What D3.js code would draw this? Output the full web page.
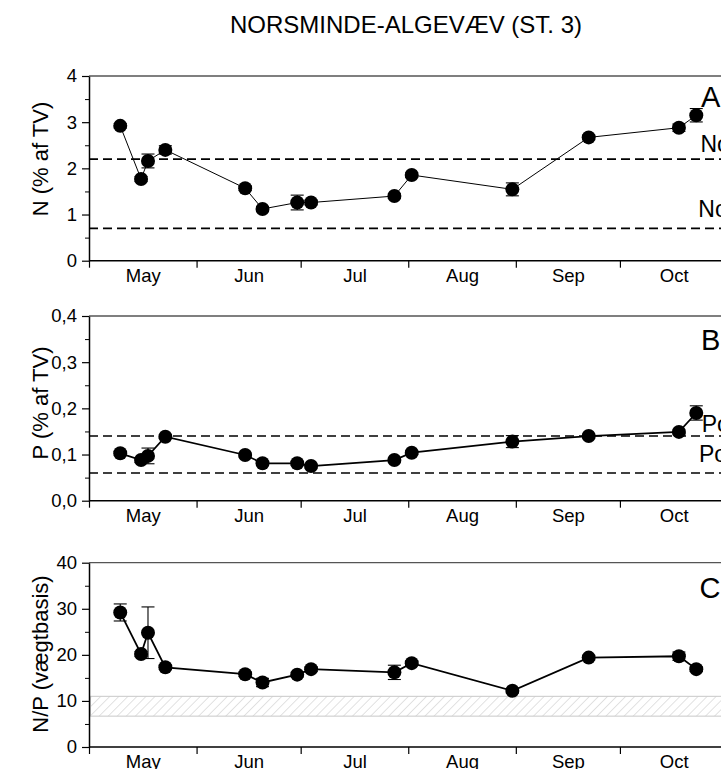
<!DOCTYPE html>
<html>
<head>
<meta charset="utf-8">
<script src="https://cdn.jsdelivr.net/npm/d3@7"></script>
<style>
  html, body { margin: 0; padding: 0; background: #fff; overflow: hidden; }
  svg { display: block; font-family: "Liberation Sans", Arial, sans-serif; }
</style>
</head>
<body>
<svg id="chart" width="721" height="769"></svg>
<script>
// Sampling dates (month-day) for station 3
const sampleDates = ["05-10", "05-16", "05-18", "05-23", "06-15", "06-20", "06-30",
                     "07-04", "07-28", "08-02", "08-31", "09-22", "10-18", "10-23"];

// Tissue nitrogen, % of dry weight, with standard deviations
const nValues = [2.92, 1.77, 2.16, 2.40, 1.57, 1.12, 1.26, 1.26, 1.40, 1.855, 1.545, 2.67, 2.88, 3.15];
const nErrors = [0.05, 0.05, 0.15, 0.09, 0.05, 0.05, 0.16, 0.05, 0.05, 0.05, 0.14, 0.05, 0.08, 0.145];

// Tissue phosphorus, % of dry weight, with standard deviations
const pValues = [0.1026, 0.088, 0.097, 0.1385, 0.099, 0.081, 0.081, 0.075, 0.088, 0.104, 0.128, 0.140, 0.149, 0.190];
const pErrors = [0.004, 0.005, 0.017, 0.004, 0.004, 0.004, 0.004, 0.004, 0.004, 0.004, 0.013, 0.004, 0.004, 0.0155];

// N/P ratio by weight, with standard deviations
const npValues = [29.2, 20.2, 24.8, 17.3, 15.8, 14.0, 15.7, 16.9, 16.2, 18.2, 12.2, 19.4, 19.7, 16.9];
const npErrors = [1.85, 0.5, 5.6, 0.5, 0.5, 0.9, 0.5, 0.5, 1.55, 0.5, 0.5, 0.5, 0.9, 0.5];

// Reference levels
const nLevels = [2.2, 0.7];
const nLevelLabels = ["No", "No"];
const pLevels = [0.14, 0.06];
const pLevelLabels = ["Po", "Po"];
const npBand = [6.7, 11];

// Axis ticks
const nTicks = [0, 1, 2, 3, 4];
const pTicks = [0, 0.1, 0.2, 0.3, 0.4];
const npTicks = [0, 10, 20, 30, 40];
const monthLabels = ["May", "Jun", "Jul", "Aug", "Sep", "Oct"];

const title = "NORSMINDE-ALGEVÆV (ST. 3)";

const YEAR = 2003;
const parseDay = d => new Date(YEAR, +d.slice(0, 2) - 1, +d.slice(3, 5));
const dates = sampleDates.map(parseDay);

const svg = d3.select("#chart");
svg.append("rect").attr("width", 721).attr("height", 769).attr("fill", "#fff");

const x = d3.scaleTime()
  .domain([new Date(YEAR, 4, 1), new Date(YEAR, 10, 1)])
  .range([89, 727.5]);

const monthStarts = d3.range(4, 11).map(m => new Date(YEAR, m, 1));
const monthMids = monthStarts.slice(0, 6).map((d, i) =>
  new Date((d.getTime() + monthStarts[i + 1].getTime()) / 2));

// hatch pattern for the N/P band
const defs = svg.append("defs");
const pat = defs.append("pattern")
  .attr("id", "hatch")
  .attr("patternUnits", "userSpaceOnUse")
  .attr("width", 6.4).attr("height", 6.4)
  .attr("patternTransform", "rotate(45)");
pat.append("line")
  .attr("x1", 0).attr("y1", 0).attr("x2", 0).attr("y2", 6.4)
  .attr("stroke", "#c4c4c4").attr("stroke-width", 1);

svg.append("text")
  .attr("x", 406).attr("y", 33)
  .attr("text-anchor", "middle")
  .attr("font-size", 24)
  .attr("fill", "#000")
  .text(title);

function panel(cfg) {
  const y = d3.scaleLinear().domain(cfg.domain).range([cfg.bottom, cfg.top]);
  const g = svg.append("g");

  // top frame line
  g.append("line")
    .attr("x1", x.range()[0]).attr("x2", 760)
    .attr("y1", cfg.top).attr("y2", cfg.top)
    .attr("stroke", "#555").attr("stroke-width", 1.3);

  if (cfg.band) {
    g.append("rect")
      .attr("x", x.range()[0] + 1.5)
      .attr("y", y(cfg.band[1]))
      .attr("width", 760 - x.range()[0])
      .attr("height", y(cfg.band[0]) - y(cfg.band[1]))
      .attr("fill", "url(#hatch)")
      .attr("stroke", "#c8c8c8").attr("stroke-width", 1);
  }

  if (cfg.levels) {
    cfg.levels.forEach((lv, i) => {
      g.append("line")
        .attr("x1", x.range()[0]).attr("x2", 760)
        .attr("y1", y(lv)).attr("y2", y(lv))
        .attr("stroke", "#000").attr("stroke-width", 1.6)
        .attr("stroke-dasharray", "9,5");
      g.append("text")
        .attr("x", cfg.labelX[i]).attr("y", y(lv) - cfg.labelGap[i])
        .attr("font-size", 23)
        .attr("fill", "#000")
        .text(cfg.levelLabels[i]);
    });
  }

  // y axis: major and minor ticks
  const minor = d3.range(cfg.domain[0], cfg.domain[1] + 1e-9, cfg.step / 2)
    .filter((v, i) => i % 2 === 1);
  g.append("g")
    .attr("transform", `translate(${x.range()[0]},0)`)
    .call(d3.axisLeft(y).tickValues(minor).tickSize(4).tickFormat(""))
    .call(a => a.select(".domain").remove())
    .call(a => a.selectAll("line").attr("stroke", "#000"));
  const ya = g.append("g")
    .attr("transform", `translate(${x.range()[0]},0)`)
    .call(d3.axisLeft(y).tickValues(cfg.ticks).tickSize(7).tickPadding(5)
      .tickSizeOuter(0).tickFormat(cfg.fmt));
  ya.select(".domain").attr("stroke", "#000").attr("stroke-width", 1.5);
  ya.selectAll("line").attr("stroke", "#000").attr("stroke-width", 1.2);
  ya.selectAll("text").attr("font-size", 18.5).attr("fill", "#000")
    .attr("font-family", "Liberation Sans, Arial, sans-serif");

  // x axis: month boundaries and centred month names
  const xa = g.append("g")
    .attr("transform", `translate(0,${cfg.bottom})`)
    .call(d3.axisBottom(x).tickValues(monthStarts.slice(0, 6)).tickSize(7).tickSizeOuter(0).tickFormat(""));
  xa.select(".domain").attr("stroke", "#000").attr("stroke-width", 1.5)
    .attr("d", `M${x.range()[0]},0H760`);
  xa.selectAll("line").attr("stroke", "#000").attr("stroke-width", 1.2);
  const xl = g.append("g")
    .attr("transform", `translate(0,${cfg.bottom})`)
    .call(d3.axisBottom(x).tickValues(monthMids).tickSize(0).tickPadding(8)
      .tickFormat((d, i) => monthLabels[i]));
  xl.select(".domain").remove();
  xl.selectAll("text").attr("font-size", 18.5).attr("fill", "#000")
    .attr("font-family", "Liberation Sans, Arial, sans-serif");

  // y title
  g.append("text")
    .attr("transform", `translate(${cfg.titleX},${cfg.titleY}) rotate(-90)`)
    .attr("text-anchor", "middle")
    .attr("font-size", 22)
    .attr("fill", "#000")
    .text(cfg.title);

  // panel letter
  g.append("text")
    .attr("x", cfg.letterX).attr("y", cfg.letterY)
    .attr("font-size", 29)
    .attr("fill", "#000")
    .text(cfg.letter);

  const pts = dates.map((d, i) => ({ d, v: cfg.values[i], e: cfg.errors[i] }));

  // connecting line
  g.append("path")
    .datum(pts)
    .attr("d", d3.line().x(p => x(p.d)).y(p => y(p.v)))
    .attr("fill", "none")
    .attr("stroke", "#000")
    .attr("stroke-width", cfg.lineWidth);

  // error bars
  const eb = g.append("g").attr("stroke", "#000").attr("stroke-width", 1.1);
  pts.forEach(p => {
    const cx = x(p.d), y1 = y(p.v + p.e), y2 = y(p.v - p.e);
    eb.append("line").attr("x1", cx).attr("x2", cx).attr("y1", y1).attr("y2", y2);
    eb.append("line").attr("x1", cx - 6.5).attr("x2", cx + 6.5).attr("y1", y1).attr("y2", y1);
    eb.append("line").attr("x1", cx - 6.5).attr("x2", cx + 6.5).attr("y1", y2).attr("y2", y2);
  });

  // markers
  g.selectAll("circle.pt")
    .data(pts)
    .join("circle")
    .attr("class", "pt")
    .attr("cx", p => x(p.d))
    .attr("cy", p => y(p.v))
    .attr("r", 7)
    .attr("fill", "#000");
}

panel({
  top: 76, bottom: 260.7, domain: [0, 4], step: 1, ticks: nTicks,
  fmt: d3.format("d"),
  values: nValues, errors: nErrors, lineWidth: 1,
  levels: nLevels, levelLabels: nLevelLabels, labelX: [700.5, 698.3], labelGap: [7.5, 11.5],
  title: "N (% af TV)", titleX: 47.5, titleY: 159,
  letter: "A", letterX: 701, letterY: 107
});

panel({
  top: 316, bottom: 500.7, domain: [0, 0.4], step: 0.1, ticks: pTicks,
  fmt: d => d3.format(".1f")(d).replace(".", ","),
  values: pValues, errors: pErrors, lineWidth: 1.7,
  levels: pLevels, levelLabels: pLevelLabels, labelX: [701.7, 699], labelGap: [4, 11],
  title: "P (% af TV)", titleX: 47.5, titleY: 403,
  letter: "B", letterX: 701, letterY: 350
});

panel({
  top: 562.7, bottom: 747, domain: [0, 40], step: 10, ticks: npTicks,
  fmt: d3.format("d"),
  values: npValues, errors: npErrors, lineWidth: 1.8,
  band: npBand,
  title: "N/P (vægtbasis)", titleX: 47.5, titleY: 654,
  letter: "C", letterX: 699.5, letterY: 598
});
</script>
</body>
</html>
